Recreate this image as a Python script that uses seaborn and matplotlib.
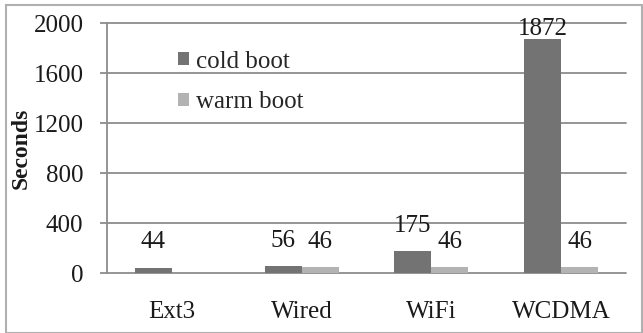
import seaborn as sns
import pandas as pd
import numpy as np
import matplotlib.pyplot as plt
from matplotlib.patches import Rectangle

categories = ["Ext3", "Wired", "WiFi", "WCDMA"]
cold_boot = [44, 56, 175, 1872]
warm_boot = [np.nan, 46, 46, 46]
series = ["cold boot", "warm boot"]
y_ticks = [0, 400, 800, 1200, 1600, 2000]

sns.set_theme(style="white")
plt.rcParams['font.family'] = ['Liberation Serif', 'DejaVu Serif']

df = pd.DataFrame({
    "category": categories * 2,
    "series": [series[0]] * 4 + [series[1]] * 4,
    "seconds": cold_boot + warm_boot,
})

fig = plt.figure(figsize=(6.43, 3.33), dpi=100)
ax = fig.add_axes([107 / 643, 1 - 273 / 333, 519 / 643, 250 / 333])

sns.barplot(data=df, x="category", y="seconds", hue="series",
            palette=["#737373", "#b3b3b3"], width=0.57, ax=ax,
            saturation=1, errorbar=None, edgecolor="none")

ax.set_ylim(0, 2000)
ax.set_yticks(y_ticks)
ax.set_xlim(-0.5, 3.5)
grid_color = "#8c8c8c"
for t in y_ticks:
    ax.axhline(t, color=grid_color, lw=1.3, zorder=0.5, clip_on=False)
for s in ["top", "right", "bottom"]:
    ax.spines[s].set_visible(False)
ax.spines["left"].set_color(grid_color)
ax.spines["left"].set_linewidth(1.3)
ax.tick_params(axis="y", direction="out", length=5, width=1.3, color=grid_color,
               pad=12, labelsize=18, labelcolor="#1a1a1a", left=True)
ax.tick_params(axis="x", length=0, pad=20, labelsize=18, labelcolor="#1a1a1a")
ax.set_xlabel("")
ax.set_ylabel("Seconds", fontsize=17, fontweight="bold", color="#1a1a1a")
ax.yaxis.set_label_coords(-0.145, 0.5)

# value labels above bars
for cont in ax.containers:
    for bar in cont:
        h = bar.get_height()
        if np.isnan(h):
            continue
        off = 18 if h < 1500 else 7
        ax.annotate(f"{int(h)}", (bar.get_x() + bar.get_width() / 2, h),
                    xytext=(0, off), textcoords="offset points",
                    ha="center", va="center", fontsize=18, color="#1a1a1a")

ax.legend(loc="upper left", bbox_to_anchor=(0.112, 0.94), frameon=False,
          fontsize=18, handlelength=0.45, handleheight=0.45, handletextpad=0.3,
          labelspacing=0.75, borderpad=0, title=None)

fig.patches.append(Rectangle((6 / 643, 0), 636 / 643, 1 - 5 / 333,
                             transform=fig.transFigure, fill=False,
                             edgecolor="#b0b0b0", lw=1.5))

fig.savefig("out.png", dpi=100)
